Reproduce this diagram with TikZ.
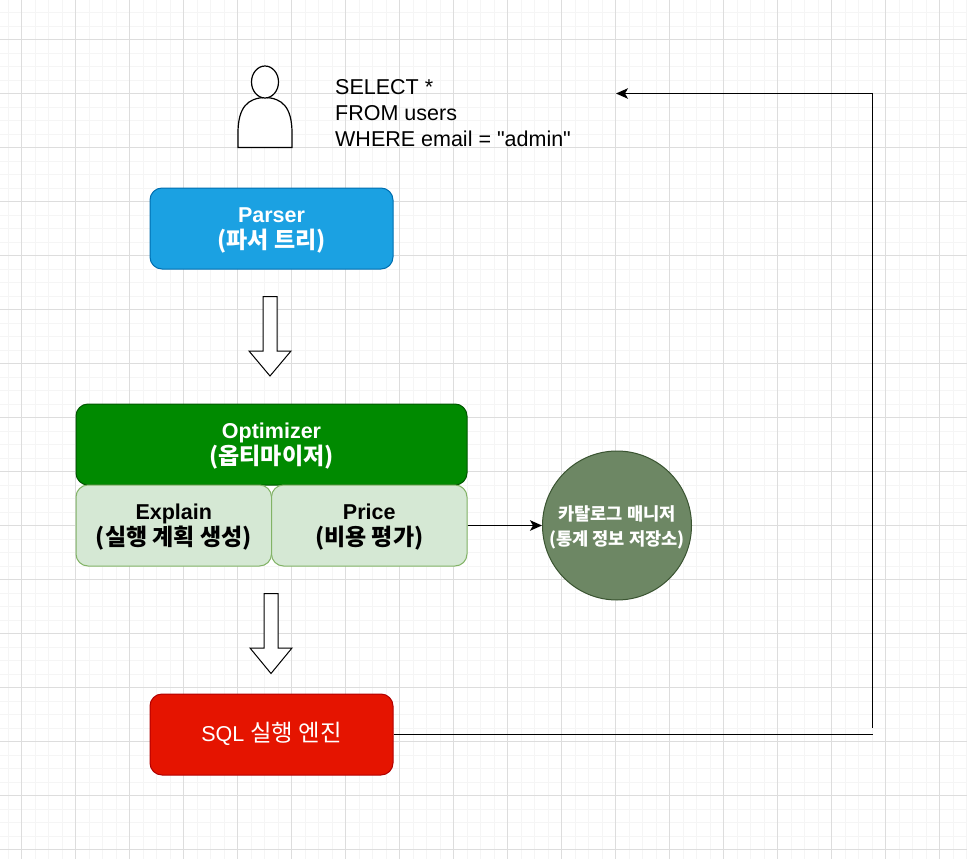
\documentclass[tikz,border=0pt]{standalone}
\usepackage{fontspec}
\setmainfont{Liberation Sans}
\newfontfamily\krfont{Noto Sans CJK KR}
\newfontfamily\qfont{Liberation Sans}
\newcommand{\tl}[1]{\raisebox{-7pt}[0pt][0pt]{#1}}
\newcommand{\kr}[1]{\tl{\krfont\bfseries\fontsize{23}{26}\selectfont #1}}
\newcommand{\krs}[1]{\tl{\krfont\bfseries\fontsize{17.6}{25}\selectfont #1}}
\definecolor{gridminor}{HTML}{F5F5F5}
\definecolor{gridmajor}{HTML}{DDDDDD}
\definecolor{parserfill}{HTML}{1BA1E2}
\definecolor{parserline}{HTML}{006EAF}
\definecolor{optfill}{HTML}{008A00}
\definecolor{optline}{HTML}{005700}
\definecolor{subfill}{HTML}{D5E8D4}
\definecolor{subline}{HTML}{82B366}
\definecolor{catfill}{HTML}{6D8764}
\definecolor{catline}{HTML}{3A5431}
\definecolor{sqlfill}{HTML}{E51400}
\definecolor{sqlline}{HTML}{B20000}
\usetikzlibrary{arrows.meta}
\tikzset{
  x=1pt,y=-1pt,
  boxbase/.style={draw,rounded corners=12pt,line width=1pt,align=center,inner sep=0pt,anchor=center,font=\fontsize{21.5}{26}\selectfont},
  parserbox/.style={boxbase,fill=parserfill,draw=parserline,text=white,minimum width=243pt,minimum height=81pt},
  optbox/.style={boxbase,fill=optfill,draw=optline,text=white,minimum width=391pt,minimum height=81pt},
  subbox/.style={boxbase,fill=subfill,draw=subline,text=black,minimum width=195.5pt,minimum height=81pt},
  sqlbox/.style={boxbase,fill=sqlfill,draw=sqlline,text=white,minimum width=243pt,minimum height=81pt},
  catcircle/.style={circle,draw=catline,fill=catfill,line width=1pt,text=white,minimum size=149pt,inner sep=0pt,align=center,font=\fontsize{17.6}{25}\selectfont},
  blockarrow/.style={draw=black,fill=white,line width=1pt,line join=miter},
  flow/.style={draw=black,line width=1.3pt},
  flowtip/.style={flow,-{Stealth[length=12pt,width=10.5pt,inset=3pt]}},
  person/.style={draw=black,fill=white,line width=1.2pt},
  sqltext/.style={align=left,anchor=west,inner sep=0pt,font=\qfont\fontsize{21.5}{26}\selectfont}
}
\begin{document}
\begin{tikzpicture}
\useasboundingbox (0,0) rectangle (967,859);
\fill[white] (0,0) rectangle (967,859);
% grid
\foreach \i in {0,...,71} {
  \draw[gridminor,line width=0.8pt] ({8+13.5*\i},0) -- ({8+13.5*\i},859);
}
\foreach \i in {0,...,63} {
  \draw[gridminor,line width=0.8pt] (0,{12.5+13.5*\i}) -- (967,{12.5+13.5*\i});
}
\foreach \i in {0,...,17} {
  \draw[gridmajor,line width=0.8pt] ({21.5+54*\i},0) -- ({21.5+54*\i},859);
}
\foreach \i in {0,...,15} {
  \draw[gridmajor,line width=0.8pt] (0,{39.5+54*\i}) -- (967,{39.5+54*\i});
}
% person
\draw[person] (238,147.5) -- (238,133) .. controls (238,107) and (248,98) .. (265,97.5) .. controls (282,98) and (292,107) .. (292,133) -- (292,147.5) -- cycle;
\draw[person] (265,82) ellipse [x radius=13.5pt,y radius=16pt];
% sql text
\node[sqltext] (query) at (335,113) {SELECT *\\FROM users\\WHERE email = "admin"};
% boxes
\node[parserbox] (parser) at (271.5,228.5) {\tl{\textbf{Parser}}\\\kr{(파서 트리)}};
\node[optbox] (optimizer) at (271.5,444.5) {\tl{\textbf{Optimizer}}\\\kr{(옵티마이저)}};
\node[subbox] (explain) at (173.75,525.5) {\tl{\textbf{Explain}}\\\kr{(실행 계획 생성)}};
\node[subbox] (price) at (369.25,525.5) {\tl{\textbf{Price}}\\\kr{(비용 평가)}};
\node[catcircle] (catalog) at (617,525.5) {\krs{카탈로그 매니저}\\\krs{(통계 정보 저장소)}};
\node[sqlbox] (sql) at (271.5,734.5) {\tl{SQL {\krfont\fontsize{23.4}{26}\selectfont 실행 엔진}}};
% block arrows
\draw[blockarrow] (263,296.5) -- (277,296.5) -- (277,351) -- (291,351) -- (270,376) -- (249,351) -- (263,351) -- cycle;
\draw[blockarrow] (264,593.5) -- (278,593.5) -- (278,648) -- (292,648) -- (271,673.5) -- (250,648) -- (264,648) -- cycle;
% connectors
\draw[flowtip] (price.east) -- (catalog.west);
\coordinate (corner) at (872.5,734.5);
\coordinate (upstart) at (872.5,728);
\coordinate (upbend) at (872.5,93.5);
\coordinate (uptarget) at (616,93.5);
\draw[flow] (sql.east) -- (corner);
\draw[flowtip] (upstart) -- (upbend) -- (uptarget);
\end{tikzpicture}
\end{document}
